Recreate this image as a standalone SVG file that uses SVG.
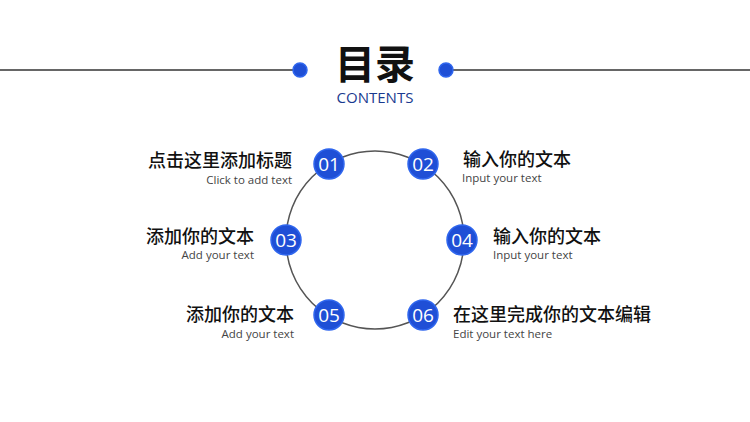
<svg xmlns="http://www.w3.org/2000/svg" width="750" height="422" viewBox="0 0 750 422">
<style>
.n{fill:#1f4fd6;stroke:#2f66ee;stroke-width:1.5}
.num{font-family:"Open Sans",sans-serif;font-size:19px;fill:#fff;text-anchor:middle}
.t{font-family:"Noto Sans CJK SC",sans-serif;font-size:18px;font-weight:500;fill:#111}
.s{font-family:"Open Sans",sans-serif;font-size:11.5px;fill:#444}
.r{text-anchor:end}
</style>
<rect width="750" height="422" fill="#fff"/>
<g id="connectors">
<line x1="0" y1="70" x2="293" y2="70" stroke="#333" stroke-width="1.5"/>
<line x1="453" y1="70" x2="750" y2="70" stroke="#333" stroke-width="1.5"/>
<circle cx="375" cy="240" r="89" fill="none" stroke="#555" stroke-width="1.5"/>
</g>
<g id="title">
<circle cx="300" cy="70" r="7" class="n"/>
<circle cx="446" cy="70" r="7" class="n"/>
<text x="375" y="79" text-anchor="middle" font-family="Noto Sans CJK SC,sans-serif" font-size="40" font-weight="bold" fill="#111">目录</text>
<text x="375" y="103" text-anchor="middle" font-family="Open Sans,sans-serif" font-size="15" font-weight="500" fill="#1a3a8f">CONTENTS</text>
</g>
<g id="n01"><circle cx="329" cy="164" r="15" class="n"/><text x="329" y="171" class="num">01</text>
<text x="292" y="167" class="t r">点击这里添加标题</text><text x="292" y="184" class="s r">Click to add text</text></g>
<g id="n02"><circle cx="423" cy="164" r="15" class="n"/><text x="423" y="171" class="num">02</text>
<text x="463" y="166" class="t">输入你的文本</text><text x="462" y="182" class="s">Input your text</text></g>
<g id="n03"><circle cx="286" cy="240" r="15" class="n"/><text x="286" y="247" class="num">03</text>
<text x="254" y="243" class="t r">添加你的文本</text><text x="254" y="259" class="s r">Add your text</text></g>
<g id="n04"><circle cx="462" cy="240" r="15" class="n"/><text x="462" y="247" class="num">04</text>
<text x="493" y="243" class="t">输入你的文本</text><text x="493" y="259" class="s">Input your text</text></g>
<g id="n05"><circle cx="329" cy="315" r="15" class="n"/><text x="329" y="322" class="num">05</text>
<text x="294" y="321" class="t r">添加你的文本</text><text x="294" y="338" class="s r">Add your text</text></g>
<g id="n06"><circle cx="423" cy="315" r="15" class="n"/><text x="423" y="322" class="num">06</text>
<text x="453" y="321" class="t">在这里完成你的文本编辑</text><text x="453" y="338" class="s">Edit your text here</text></g>
</svg>
